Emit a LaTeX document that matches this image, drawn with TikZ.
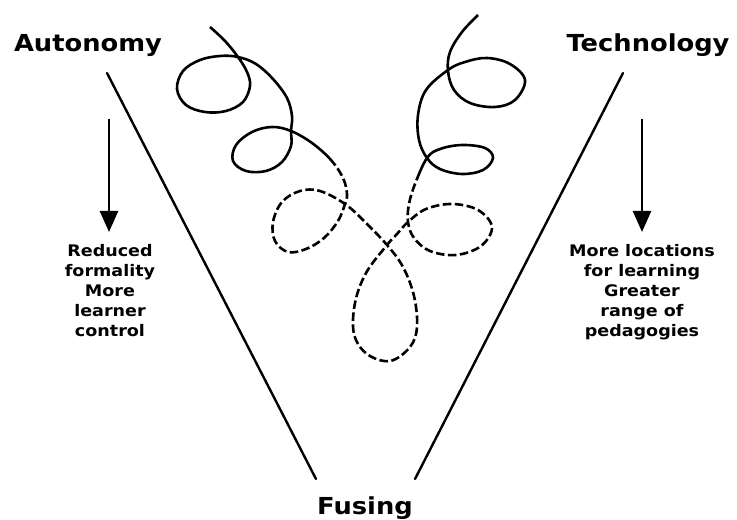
\documentclass[tikz,border=0pt]{standalone}
\usepackage{fontspec}
\setmainfont{DejaVu Sans}
\newfontfamily\labelfont[FakeStretch=1.1]{DejaVu Sans}
\usetikzlibrary{arrows.meta}
\begin{document}
\begin{tikzpicture}[x=1bp,y=-1bp,
  title/.style={font=\labelfont\bfseries\fontsize{23.5}{28}\selectfont, inner sep=0pt, anchor=base},
  note/.style={font=\labelfont\bfseries\fontsize{16}{20.2}\selectfont, align=center, inner sep=0pt, anchor=north},
  vline/.style={line width=2.4bp, line cap=round},
  downarrow/.style={line width=2.5bp, -{Triangle[width=18bp,length=21bp]}},
  curve/.style={line width=2.6bp, line join=round},
  dashcurve/.style={curve, dash pattern=on 8.5bp off 3.5bp}]
\useasboundingbox (0,0) rectangle (737,520);
\fill[white] (0,0) rectangle (737,520);

% titles
\node[title] (autonomy) at (88,52) {Autonomy};
\node[title] (technology) at (648,52) {Technology};
\node[title] (fusing) at (365,514) {Fusing};

% notes
\node[note] (leftnote) at (110,244) {Reduced\\formality\\More\\learner\\control};
\node[note] (rightnote) at (642,244) {More locations\\for learning\\Greater\\range of\\pedagogies};

% arrows
\coordinate (la) at (109,119);
\coordinate (lb) at (109,232);
\coordinate (ra) at (642,119);
\coordinate (rb) at (642,232);
\draw[downarrow] (la) -- (lb);
\draw[downarrow] (ra) -- (rb);

% V lines
\coordinate (vl1) at (107,73);
\coordinate (vl2) at (316,479);
\coordinate (vr1) at (623,73);
\coordinate (vr2) at (415,479);
\draw[vline] (vl1) -- (vl2);
\draw[vline] (vr1) -- (vr2);

% spiral
\def\spiralpath{plot[smooth, tension=0.6] coordinates {
(210,27) (225,41) (238,57) (247,72) (250,86) (243,102) (226,111) (205,112)
(186,105) (177,89) (183,71) (200,60) (220,56) (238,57) (256,64) (273,79)
(287,98) (292,116) (291,131) (291,146) (282,162) (266,171) (246,171)
(233,161) (236,145) (252,132) (272,127) (291,131) (312,143) (331,160)
(343,178) (347,194) (345,204) (338,221) (324,238) (306,249) (288,252)
(275,241) (273,222) (282,202) (300,191) (320,191) (345,204) (365,222)
(387,245) (403,267) (414,296) (417,327) (410,347) (390,361) (367,354)
(354,334) (355,303) (366,273) (387,245) (397,234) (408,222) (426,209)
(452,204) (478,210) (492,227) (481,246) (456,255) (430,251) (414,238)
(408,222) (409,204) (415,184) (427,158) (440,149) (462,145) (485,148)
(493,158) (483,170) (462,174) (440,169) (427,158) (419,140) (418,115)
(426,90) (448,70) (465,62) (487,58) (510,64) (525,80) (515,100) (495,107)
(470,103) (454,90) (448,71) (450,52) (462,32) (478,15)}}
\begin{scope}
\clip (0,0) -- (737,0) -- (737,180) -- (400,180) -- (400,165) -- (300,165) -- (300,182) -- (0,182) -- cycle;
\draw[curve] \spiralpath;
\end{scope}
\begin{scope}
\clip (0,182) -- (300,182) -- (300,165) -- (400,165) -- (400,180) -- (737,180) -- (737,520) -- (0,520) -- cycle;
\draw[dashcurve] \spiralpath;
\end{scope}
\end{tikzpicture}
\end{document}
